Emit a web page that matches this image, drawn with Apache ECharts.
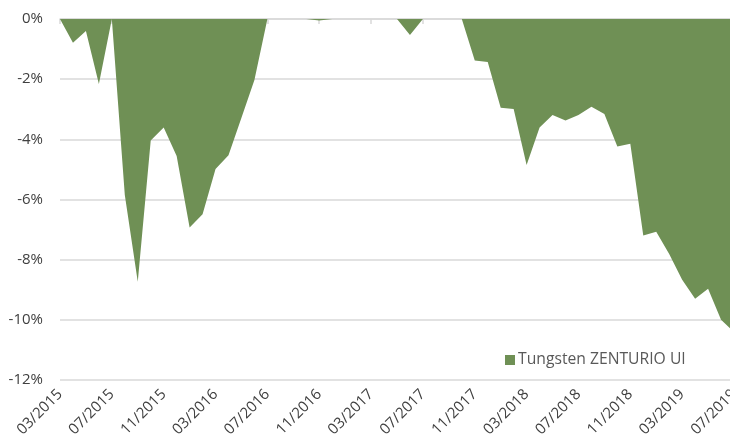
<!DOCTYPE html>
<html>
<head>
<meta charset="utf-8">
<script src="https://cdn.jsdelivr.net/npm/echarts@6/dist/echarts.min.js"></script>
<style>
html,body{margin:0;padding:0;background:#fff;}
#chart{width:730px;height:446px;}
</style>
</head>
<body>
<div id="chart"></div>
<script>
var categories = [
  "03/2015","04/2015","05/2015","06/2015","07/2015","08/2015","09/2015","10/2015","11/2015","12/2015",
  "01/2016","02/2016","03/2016","04/2016","05/2016","06/2016","07/2016","08/2016","09/2016","10/2016",
  "11/2016","12/2016","01/2017","02/2017","03/2017","04/2017","05/2017","06/2017","07/2017","08/2017",
  "09/2017","10/2017","11/2017","12/2017","01/2018","02/2018","03/2018","04/2018","05/2018","06/2018",
  "07/2018","08/2018","09/2018","10/2018","11/2018","12/2018","01/2019","02/2019","03/2019","04/2019",
  "05/2019","06/2019","07/2019"
];
var seriesName = "Tungsten ZENTURIO UI";
var drawdown = [
  0, -0.79, -0.40, -2.16, 0, -5.85, -8.73, -4.04, -3.61, -4.55,
  -6.93, -6.49, -4.99, -4.53, -3.28, -2.03, 0, 0, 0, 0,
  -0.05, 0, 0, 0, 0, 0, 0, -0.53, 0, 0,
  0, 0, -1.38, -1.43, -2.95, -2.99, -4.85, -3.61, -3.19, -3.37,
  -3.19, -2.92, -3.16, -4.24, -4.15, -7.20, -7.07, -7.81, -8.67, -9.30,
  -8.97, -10.00, -10.40
];
var yTicks = { min: -12, max: 0, interval: 2 };

var chart = echarts.init(document.getElementById('chart'), null, {renderer: 'canvas'});
var font = '"Open Sans", sans-serif';
chart.setOption({
  animation: false,
  backgroundColor: '#ffffff',
  grid: { left: 60, right: -4, top: 19, bottom: 66, containLabel: false, outerBoundsMode: 'none' },
  legend: {
    data: [{ name: seriesName, icon: 'rect' }],
    left: 500, top: 347,
    itemWidth: 10, itemHeight: 10, itemGap: 4,
    textStyle: { color: '#595959', fontSize: 15.7, fontFamily: font, padding: [0,0,0,-2] }
  },
  xAxis: [
    {
      type: 'category', data: categories, boundaryGap: false, position: 'bottom',
      axisLine: { show: false }, axisTick: { show: false },
      axisLabel: { interval: 3, rotate: 45, color: '#404040', fontSize: 15, fontFamily: font, margin: 12, hideOverlap: false },
      splitLine: { show: false }
    },
    {
      type: 'category', data: categories, boundaryGap: false, position: 'top',
      axisLine: { show: true, lineStyle: { color: '#d9d9d9', width: 1.5 } },
      axisTick: { show: true, inside: true, interval: 3, length: 5, lineStyle: { color: '#d9d9d9', width: 1.5 } },
      axisLabel: { show: false },
      splitLine: { show: false }
    }
  ],
  yAxis: {
    type: 'value', min: yTicks.min, max: yTicks.max, interval: yTicks.interval,
    axisLine: { show: false }, axisTick: { show: false },
    axisLabel: { formatter: function(v){ return v + '%'; }, color: '#404040', fontSize: 15, fontFamily: font, margin: 17 },
    splitLine: { show: true, lineStyle: { color: '#d9d9d9', width: 1.5 } }
  },
  series: [{
    name: seriesName, type: 'line', data: drawdown, xAxisIndex: 0,
    symbol: 'none', lineStyle: { width: 0, color: '#6F9055' },
    itemStyle: { color: '#6F9055' },
    areaStyle: { color: '#6F9055', opacity: 1, origin: 'end' },
    z: 1
  }]
});
</script>
</body>
</html>
